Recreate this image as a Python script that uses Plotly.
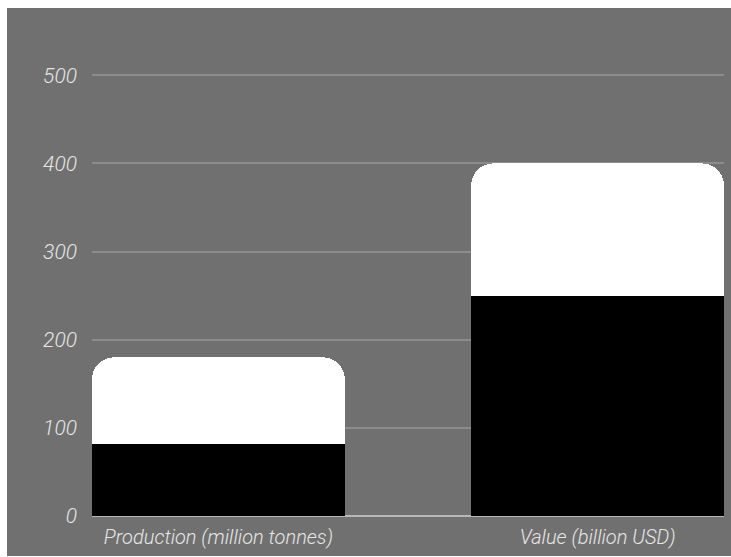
import plotly.graph_objects as go

# Categories and stacked series values
categories = ["Production (million tonnes)", "Value (billion USD)"]
base_values = [82, 250]
top_values = [98, 150]
y_ticks = [0, 100, 200, 300, 400, 500]

W, H = 731, 557
ML, MR, MT, MB = 92, 7, 40, 41
plot_w = W - ML - MR
plot_h = H - MT - MB

fig = go.Figure()
fig.add_trace(go.Bar(x=categories, y=base_values, marker=dict(color="#000000", line=dict(width=0)),
                     name="base", hoverinfo="x+y"))
fig.add_trace(go.Bar(x=categories, y=top_values, marker=dict(color="#ffffff", line=dict(width=0)),
                     name="top", hoverinfo="x+y"))

# Gray card behind the chart, inset from the top-left corner
fig.add_shape(type="rect", xref="paper", yref="paper", layer="below",
              x0=(7 - ML) / plot_w, x1=(W - ML) / plot_w,
              y0=(H - MB - 556) / plot_h, y1=(H - MB - 8) / plot_h,
              fillcolor="#707070", line=dict(width=0))

tick_font = dict(family="Roboto, Inter, sans-serif", size=21, color="#e6e6e6",
                 style="italic", weight=300)

fig.update_layout(
    width=W, height=H,
    margin=dict(l=ML, r=MR, t=MT, b=MB, pad=0),
    paper_bgcolor="#ffffff",
    plot_bgcolor="rgba(0,0,0,0)",
    barmode="stack",
    bargap=1 / 3,
    barcornerradius=22,
    showlegend=False,
    xaxis=dict(range=[-1 / 3, 4 / 3], showgrid=False, zeroline=False, showline=False,
               ticks="", tickfont=dict(tick_font, size=20), ticklabelstandoff=7,
               fixedrange=True),
    yaxis=dict(range=[0, 540], tickvals=y_ticks, ticktext=[str(v) for v in y_ticks],
               showgrid=True, gridcolor="#8c8c8c", gridwidth=1.5,
               zeroline=True, zerolinecolor="#b8b8b8", zerolinewidth=1.5,
               showline=False, ticks="", tickfont=tick_font, ticklabelstandoff=14,
               fixedrange=True),
)

fig.write_html("out.html")
